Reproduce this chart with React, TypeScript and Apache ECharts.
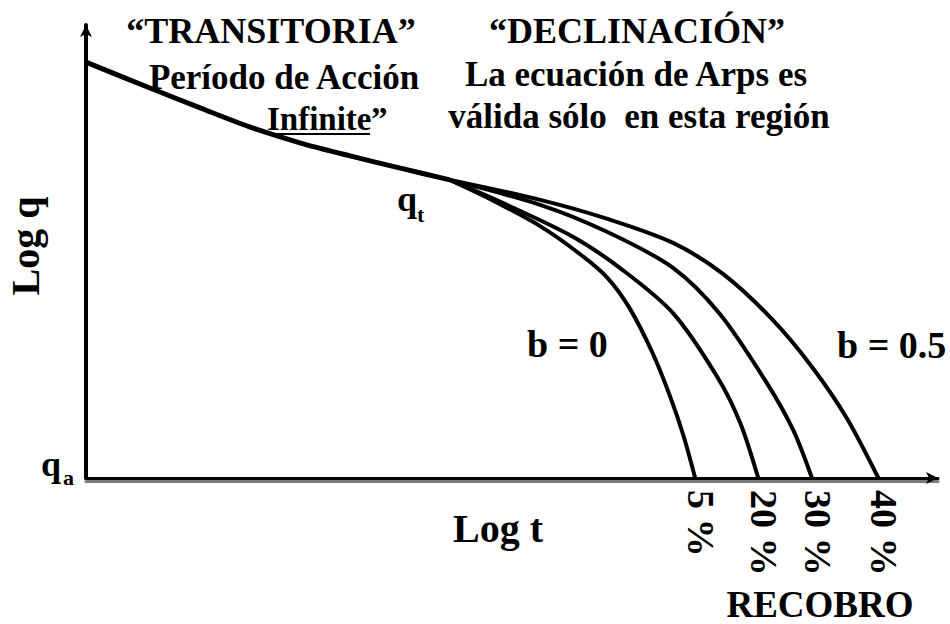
import React, { useEffect, useRef } from "react";
import * as echarts from "echarts";

// Schematic log q vs log t: transient trunk, then Arps decline branches.
// Units are arbitrary (0-100 on both axes).
const trunk: number[][] = [
  [0, 91.8], [7.5, 86.1], [13.4, 81.7], [19.2, 77.5], [25.1, 74.0],
  [31.0, 71.1], [36.9, 68.4], [42.7, 65.8],
];
const branch5: number[][] = [
  [42.7, 65.8], [47.4, 61.6], [53.3, 55.6], [58.0, 49.4], [61.2, 44.2],
  [63.8, 37.5], [66.5, 27.6], [68.5, 18.3], [70.1, 9.5], [71.5, 0],
];
const branch20: number[][] = [
  [42.7, 65.8], [49.4, 60.3], [57.2, 53.2], [63.0, 45.9], [68.9, 36.4],
  [74.1, 22.3], [76.8, 12.1], [78.9, 0],
];
const branch30: number[][] = [
  [42.7, 65.8], [53.3, 60.3], [61.2, 54.3], [68.9, 46.4], [74.4, 36.2],
  [79.9, 21.0], [83.0, 10.6], [85.2, 0],
];
const branch40: number[][] = [
  [42.7, 65.8], [53.3, 61.4], [61.2, 57.2], [68.9, 51.9], [74.8, 45.0],
  [80.6, 34.9], [85.3, 24.3], [89.3, 13.2], [93.0, 0],
];
const branches = [branch5, branch20, branch30, branch40];
const recoveryLabels = ["5 %", "20 %", "30 %", "40 %"];

const FONT = "'Liberation Serif', 'Times New Roman', serif";

function txt(
  text: string,
  x: number,
  y: number,
  size: number,
  align: "left" | "center" | "right" = "center",
  rotation = 0
) {
  return {
    type: "text",
    x,
    y,
    rotation,
    style: {
      text,
      fill: "#000",
      font: `bold ${size}px ${FONT}`,
      align,
      verticalAlign: "middle",
    },
    silent: true,
  };
}

export default function App() {
  const ref = useRef<HTMLDivElement>(null);

  useEffect(() => {
    if (!ref.current) return;
    const chart = echarts.init(ref.current, null, { renderer: "svg" });

    const axisCommon = {
      type: "value" as const,
      min: 0,
      max: 100,
      axisTick: { show: false },
      axisLabel: { show: false },
      splitLine: { show: false },
    };

    const lineSeries = (data: number[][], width: number) => ({
      type: "line",
      data,
      smooth: 0.3,
      showSymbol: false,
      silent: true,
      lineStyle: { color: "#000", width },
    });

    chart.setOption({
      animation: false,
      backgroundColor: "#fff",
      grid: { left: 86, right: 12, top: 25, bottom: 146 },
      xAxis: [
        {
          ...axisCommon,
          position: "bottom",
          axisLine: {
            show: true,
            onZero: false,
            symbol: ["none", "arrow"],
            symbolSize: [9, 12],
            lineStyle: { color: "#000", width: 3 },
          },
        },
        {
          // grey under-stroke of the time axis
          ...axisCommon,
          position: "bottom",
          offset: 3,
          max: 98.5,
          axisLine: {
            show: true,
            onZero: false,
            lineStyle: { color: "#7a7a7a", width: 3 },
          },
        },
      ],
      yAxis: {
        ...axisCommon,
        axisLine: {
          show: true,
          onZero: false,
          symbol: ["none", "arrow"],
          symbolSize: [9, 12],
          lineStyle: { color: "#000", width: 4 },
        },
      },
      series: [lineSeries(trunk, 5), ...branches.map((b) => lineSeries(b, 4))],
    });

    // recovery labels sit under each branch's end on the time axis
    const pctLabels = branches.map((b, i) => {
      const end = b[b.length - 1];
      const p = chart.convertToPixel({ xAxisIndex: 0, yAxisIndex: 0 }, [end[0], 0]) as number[];
      return txt(recoveryLabels[i], p[0] + 6, p[1] + 12, 38, "left", -Math.PI / 2);
    });

    chart.setOption({
      graphic: [
        txt("\u201CTRANSITORIA\u201D", 271, 31, 36),
        txt("Período de Acción", 284, 77, 35),
        txt("Infinite", 267, 119, 33, "left"),
        txt("\u201D", 371, 119, 33, "left"),
        {
          type: "line",
          shape: { x1: 267, y1: 134, x2: 370, y2: 134 },
          style: { stroke: "#000", lineWidth: 2 },
          silent: true,
        },
        txt("\u201CDECLINACIÓN\u201D", 637, 31, 36),
        txt("La ecuación de Arps es", 636, 74, 35),
        txt("válida sólo  en esta región", 639, 116, 35),
        txt("q", 397, 199, 36, "left"),
        txt("t", 417, 214, 22, "left"),
        txt("q", 41, 464, 36, "left"),
        txt("a", 63, 477, 22, "left"),
        txt("Log q", 25, 246, 40, "center", Math.PI / 2),
        txt("Log t", 498, 528, 40),
        txt("b = 0", 527, 344, 38, "left"),
        txt("b = 0.5", 837, 345, 38, "left"),
        ...pctLabels,
        txt("RECOBRO", 820, 604, 37),
      ],
    });

    return () => chart.dispose();
  }, []);

  return (
    <div
      ref={ref}
      style={{ position: "fixed", left: 0, top: 0, width: 950, height: 624 }}
    />
  );
}
